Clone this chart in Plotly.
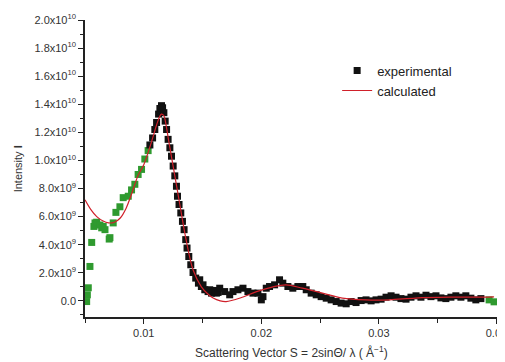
import plotly.graph_objects as go

# ---- data (S in 1/Å, intensity in units of 1e9) ----
green_s = [0.00514, 0.00520, 0.00528, 0.00542, 0.00557, 0.00576, 0.00585, 0.00599,
           0.00627, 0.00642, 0.00655, 0.00670, 0.00706, 0.00712, 0.00740, 0.00763,
           0.00797, 0.00825, 0.00868, 0.00896, 0.00924, 0.00952, 0.00981, 0.01009,
           0.01037, 0.03938, 0.03980]
green_i = [-0.05, 0.43, 0.93, 2.45, 4.16, 5.3, 5.55, 5.6,
           5.4, 5.2, 5.3, 5.07, 4.4, 4.5, 5.55, 6.3,
           6.7, 7.35, 7.45, 7.9, 8.3, 9.0, 9.36, 10.1,
           10.7, 0.07, -0.07]

black_s = [0.01052, 0.01075, 0.01094, 0.01109, 0.01126, 0.01137, 0.01151, 0.01160,
           0.01171, 0.01182, 0.01194, 0.01207, 0.01222, 0.01236, 0.01250, 0.01264,
           0.01278, 0.01287, 0.01300, 0.01315, 0.01329, 0.01343, 0.01357, 0.01368,
           0.01383, 0.01400, 0.01419, 0.01442, 0.01465, 0.01476, 0.01490, 0.01504,
           0.01519, 0.01547, 0.01561, 0.01576, 0.01604, 0.01618, 0.01632, 0.01646,
           0.01688, 0.01731, 0.01759, 0.01801, 0.01844, 0.01886, 0.01929, 0.01971,
           0.02000, 0.02014, 0.02042, 0.02070, 0.02113, 0.02155, 0.02183, 0.02226,
           0.02268, 0.02311, 0.02353, 0.02382, 0.02424, 0.02467, 0.02509, 0.02552,
           0.02594, 0.02637, 0.02679, 0.02722, 0.02764, 0.02806, 0.02849, 0.02891,
           0.02934, 0.02976, 0.03019, 0.03061, 0.03104, 0.03146, 0.03188, 0.03231,
           0.03273, 0.03316, 0.03358, 0.03401, 0.03443, 0.03486, 0.03528, 0.03570,
           0.03613, 0.03655, 0.03698, 0.03740, 0.03783, 0.03825, 0.03868]
black_i = [11.1, 11.6, 12.2, 12.7, 13.3, 13.7, 13.9, 13.75,
           13.4, 12.8, 12.2, 11.5, 10.9, 10.3, 9.6, 8.9,
           8.16, 7.45, 6.86, 6.26, 5.66, 5.07, 4.36, 3.76,
           3.16, 2.57, 2.02, 1.62, 1.26, 1.5, 1.02, 1.14,
           0.79, 0.66, 0.79, 0.55, 0.74, 0.55, 0.6, 0.9,
           0.66, 0.43, 0.66, 0.79, 0.9, 0.66, 0.55, 0.55,
           0.07, 0.3, 0.9, 1.02, 1.14, 1.5, 1.26, 1.02,
           0.9, 1.02, 1.02, 0.79, 0.55, 0.43, 0.3, 0.19,
           0.07, -0.05, -0.16, -0.21, -0.05, -0.12, 0.02, 0.07,
           0.0, 0.07, 0.12, 0.26, 0.36, 0.26, 0.16, 0.12,
           0.26, 0.36, 0.26, 0.4, 0.3, 0.36, 0.21, 0.16,
           0.26, 0.36, 0.26, 0.36, 0.19, 0.07, 0.16]

calc_s = [0.0050, 0.0055, 0.0060, 0.0065, 0.0070, 0.0075, 0.0080, 0.0085,
          0.0090, 0.0095, 0.0100, 0.0105, 0.0109, 0.0112, 0.0115, 0.0117,
          0.0119, 0.0121, 0.0126, 0.0131, 0.0136, 0.0142, 0.0149, 0.0155,
          0.0159, 0.0165, 0.0170, 0.0182, 0.0196, 0.0210, 0.0221, 0.0235,
          0.0252, 0.0269, 0.0289, 0.0309, 0.0331, 0.0360, 0.0388, 0.0398]
calc_i = [7.2, 6.5, 6.0, 5.7, 5.55, 5.6, 5.9, 6.6,
          7.7, 8.9, 9.7, 10.9, 12.0, 12.8, 13.3, 13.2,
          12.5, 11.5, 9.1, 6.7, 4.36, 2.2, 1.0, 0.45,
          0.2, 0.0, -0.05, 0.2, 0.66, 1.0, 1.14, 0.9,
          0.55, 0.2, 0.07, 0.07, 0.2, 0.26, 0.26, 0.28]

y_ticks = [0, 2, 4, 6, 8, 10, 12, 14, 16, 18, 20]
y_ticklabels = ["0.0", "2.0x10<sup>9</sup>", "4.0x10<sup>9</sup>", "6.0x10<sup>9</sup>",
                "8.0x10<sup>9</sup>", "1.0x10<sup>10</sup>", "1.2x10<sup>10</sup>",
                "1.4x10<sup>10</sup>", "1.6x10<sup>10</sup>", "1.8x10<sup>10</sup>",
                "2.0x10<sup>10</sup>"]
x_ticks = [0.01, 0.02, 0.03, 0.04]
x_ticklabels = ["0.01", "0.02", "0.03", "0.04"]

E9 = 1e9
fig = go.Figure()
fig.add_trace(go.Scatter(x=green_s, y=[v * E9 for v in green_i], mode="markers",
                         marker=dict(symbol="square", size=7, color="#2f9a2f"),
                         showlegend=False))
fig.add_trace(go.Scatter(x=black_s, y=[v * E9 for v in black_i], mode="markers",
                         name="experimental",
                         marker=dict(symbol="square", size=7, color="#111111")))
fig.add_trace(go.Scatter(x=calc_s, y=[v * E9 for v in calc_i], mode="lines",
                         name="calculated", line=dict(color="#d0202a", width=1.2, shape="spline")))

axis_common = dict(showline=True, linecolor="#222", linewidth=1.5, ticks="outside",
                   ticklen=5, tickcolor="#222", showgrid=False, zeroline=False,
                   automargin=False)
fig.update_xaxes(range=[0.005, 0.04005], tickvals=x_ticks, ticktext=x_ticklabels,
                 ticklabeloverflow="allow",
                 minor=dict(ticks="outside", ticklen=4, tickcolor="#222", dtick=0.005, tick0=0.005),
                 **axis_common)
fig.update_yaxes(range=[-1.15 * E9, 20 * E9], tickvals=[v * E9 for v in y_ticks],
                 ticktext=y_ticklabels,
                 minor=dict(ticks="outside", ticklen=3, tickcolor="#222", dtick=E9, tick0=0),
                 **axis_common)

# page body has an 8px margin, so the figure is sized to end at the window edge
fig.update_layout(
    width=497, height=354,
    margin=dict(l=77, r=8, t=12, b=45),
    plot_bgcolor="white", paper_bgcolor="white",
    font=dict(family="Liberation Sans", size=11, color="#333"),
    legend=dict(x=0.612, y=0.88, xanchor="left", yanchor="top", bgcolor="rgba(0,0,0,0)",
                font=dict(size=13, color="#222"), tracegroupgap=0),
    annotations=[
        dict(text="Scattering Vector S = 2sin\u0398/ \u03bb ( \u00c5<sup>\u22121</sup>)",
             xref="paper", yref="paper", x=0.5, y=-0.118, xanchor="center", yanchor="middle",
             showarrow=False, font=dict(size=12, color="#333")),
        dict(text="Intensity <b>I</b>", xref="paper", yref="paper", x=-0.163, y=0.5,
             textangle=-90, xanchor="center", yanchor="middle", showarrow=False,
             font=dict(size=11, color="#333")),
    ],
)

fig.write_html("out.html")
